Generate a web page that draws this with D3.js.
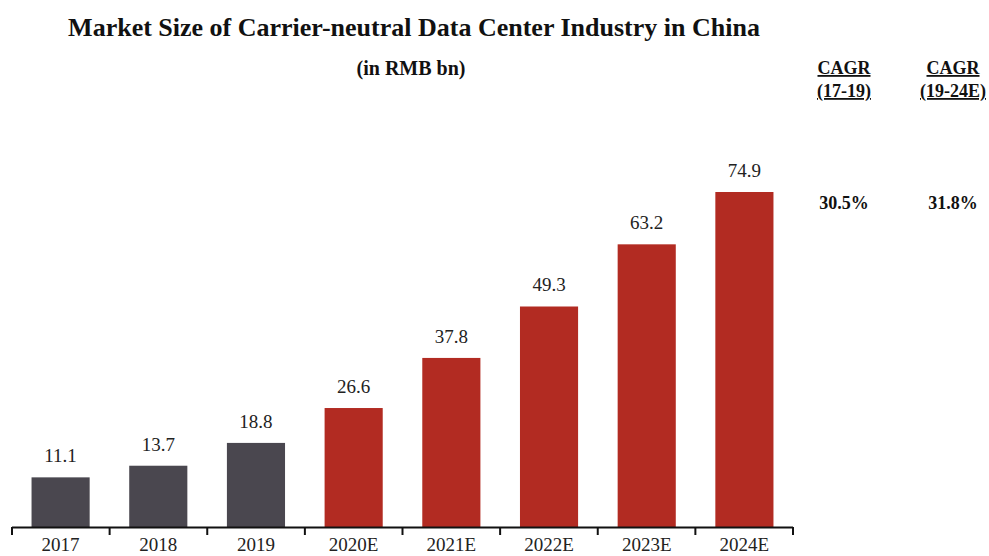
<html>
<head>
  <title>Market Size of Carrier-neutral Data Center Industry in China</title>
  <script src="https://d3js.org/d3.v7.min.js"></script>
  <style>
    body { margin: 0; background: #fff; }
    text { font-family: "Liberation Serif", "Times New Roman", serif; }
  </style>
</head>
<body>
  <script>
    // values
    const years = ["2017", "2018", "2019", "2020E", "2021E", "2022E", "2023E", "2024E"]
    const marketSize = [11.1, 13.7, 18.8, 26.6, 37.8, 49.3, 63.2, 74.9]
    const isForecast = [false, false, false, true, true, true, true, true]
    const cagrHeads = ["(17-19)", "(19-24E)"]
    const cagrValues = ["30.5%", "31.8%"]

    var width = 989,
        height = 556;

    var svg = d3.select('body')
      .append('svg')
      .attr('width', width)
      .attr('height', height);

    var x = d3.scaleBand()
      .domain(years)
      .range([12, 793])
      .paddingInner(0.405)
      .paddingOuter(0.2);

    var y = d3.scaleLinear()
      .domain([0, 74.9])
      .range([527, 192]);

    // bars
    svg.append('g').selectAll('rect')
      .data(marketSize)
      .enter()
      .append('rect')
      .attr('x', (d, i) => x(years[i]))
      .attr('y', d => y(d))
      .attr('width', x.bandwidth())
      .attr('height', d => y(0) - y(d))
      .attr('fill', (d, i) => isForecast[i] ? '#b22b22' : '#4a474f');

    // value labels
    svg.append('g').selectAll('text')
      .data(marketSize)
      .enter()
      .append('text')
      .attr('x', (d, i) => x(years[i]) + x.bandwidth() / 2)
      .attr('y', d => y(d) - 15)
      .attr('text-anchor', 'middle')
      .attr('font-size', 19)
      .attr('fill', '#222')
      .text(d => d.toFixed(1));

    // x axis with ticks between categories
    var axis = svg.append('g');
    axis.append('line')
      .attr('x1', 12).attr('x2', 793)
      .attr('y1', y(0) + 0.5).attr('y2', y(0) + 0.5)
      .attr('stroke', '#111').attr('stroke-width', 2);
    var edges = d3.range(years.length + 1).map(i => 12 + i * (781 / years.length));
    axis.selectAll('line.tick')
      .data(edges)
      .enter()
      .append('line')
      .attr('class', 'tick')
      .attr('x1', d => d).attr('x2', d => d)
      .attr('y1', y(0)).attr('y2', y(0) + 8)
      .attr('stroke', '#111').attr('stroke-width', 2);
    axis.selectAll('text')
      .data(years)
      .enter()
      .append('text')
      .attr('x', d => x(d) + x.bandwidth() / 2)
      .attr('y', 551)
      .attr('text-anchor', 'middle')
      .attr('font-size', 19)
      .attr('fill', '#222')
      .text(d => d);

    // titles
    svg.append('text')
      .attr('x', 414).attr('y', 36)
      .attr('text-anchor', 'middle')
      .attr('font-size', 26)
      .attr('font-weight', 'bold')
      .attr('fill', '#111')
      .text('Market Size of Carrier-neutral Data Center Industry in China');

    svg.append('text')
      .attr('x', 411).attr('y', 75)
      .attr('text-anchor', 'middle')
      .attr('font-size', 20)
      .attr('font-weight', 'bold')
      .attr('fill', '#111')
      .text('(in RMB bn)');

    // CAGR columns
    var cagrX = [844, 953];
    var cagr = svg.append('g');
    cagrHeads.forEach(function(h, i) {
      cagr.append('text')
        .attr('x', cagrX[i]).attr('y', 74)
        .attr('text-anchor', 'middle')
        .attr('font-size', 18)
        .attr('font-weight', 'bold')
        .attr('text-decoration', 'underline')
        .attr('fill', '#111')
        .text('CAGR');
      cagr.append('text')
        .attr('x', cagrX[i]).attr('y', 97)
        .attr('text-anchor', 'middle')
        .attr('font-size', 18)
        .attr('font-weight', 'bold')
        .attr('text-decoration', 'underline')
        .attr('fill', '#111')
        .text(h);
      cagr.append('text')
        .attr('x', cagrX[i]).attr('y', 209)
        .attr('text-anchor', 'middle')
        .attr('font-size', 18)
        .attr('font-weight', 'bold')
        .attr('fill', '#111')
        .text(cagrValues[i]);
    });
  </script>
</body>
</html>
